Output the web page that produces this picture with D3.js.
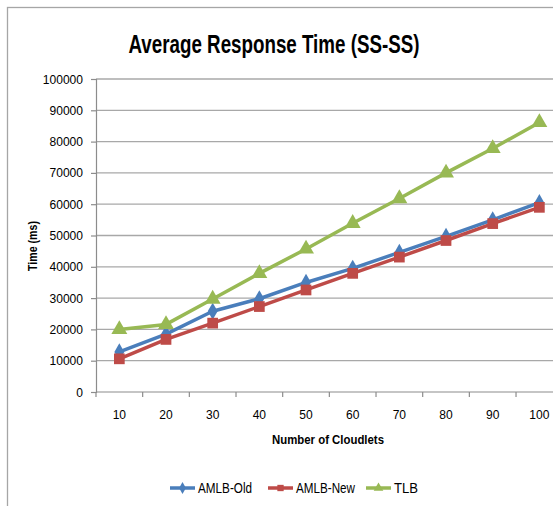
<!DOCTYPE html>
<html>
<head>
<meta charset="utf-8">
<script src="https://cdn.jsdelivr.net/npm/d3@7"></script>
<style>
  html, body { margin: 0; padding: 0; background: #fff; }
  svg { display: block; font-family: "Liberation Sans", Arial, sans-serif; }
</style>
</head>
<body>
<svg id="chart" width="553" height="506"></svg>
<script>
// Number of cloudlets on the x axis
const cloudlets = ["10", "20", "30", "40", "50", "60", "70", "80", "90", "100"];
// Average response time (ms) per algorithm
const amlbOld = [12800, 18500, 25800, 29800, 35000, 39500, 44600, 49700, 55000, 60500];
const amlbNew = [10600, 16800, 22000, 27300, 32600, 37900, 43100, 48400, 53800, 59000];
const tlb     = [20000, 21600, 29700, 37900, 45700, 53900, 61800, 70000, 77800, 86100];
const yTicks  = [0, 10000, 20000, 30000, 40000, 50000, 60000, 70000, 80000, 90000, 100000];
const seriesNames = ["AMLB-Old", "AMLB-New", "TLB"];

const series = [
  { name: seriesNames[0], values: amlbOld, color: "#4a7ebb", shape: "diamond", labelWidth: 54 },
  { name: seriesNames[1], values: amlbNew, color: "#be4b48", shape: "square", labelWidth: 59 },
  { name: seriesNames[2], values: tlb,     color: "#98b954", shape: "triangle", labelWidth: 24 }
];

const svg = d3.select("#chart");
const plot = { left: 96, right: 562.7, top: 79, bottom: 392 };

// outer chart frame
svg.append("rect")
  .attr("x", 7.5).attr("y", 7.5)
  .attr("width", 600).attr("height", 600)
  .attr("fill", "none").attr("stroke", "#a6a6a6").attr("stroke-width", 1.3);

const x = d3.scaleBand().domain(cloudlets).range([plot.left, plot.right]);
const y = d3.scaleLinear().domain([0, 100000]).range([plot.bottom, plot.top]);

// horizontal gridlines
svg.append("g").selectAll("line").data(yTicks.filter(d => d > 0)).join("line")
  .attr("x1", plot.left).attr("x2", plot.right)
  .attr("y1", d => y(d)).attr("y2", d => y(d))
  .attr("stroke", "#a8a8a8").attr("stroke-width", 1.3);

// y axis
const yAxis = svg.append("g")
  .attr("transform", `translate(${plot.left},0)`)
  .call(d3.axisLeft(y).tickValues(yTicks).tickSize(5).tickPadding(8).tickFormat(d3.format("d")));
yAxis.select(".domain").attr("stroke", "#8c8c8c").attr("stroke-width", 1.2);
yAxis.selectAll(".tick line").attr("stroke", "#8c8c8c").attr("stroke-width", 1.2);
yAxis.selectAll(".tick text")
  .attr("font-family", "Liberation Sans, Arial, sans-serif")
  .attr("font-size", 12.5).attr("fill", "#000")
  .attr("textLength", d => String(d).length * 6.7)
  .attr("lengthAdjust", "spacingAndGlyphs");

// x axis with ticks on category boundaries
const xAxisG = svg.append("g");
xAxisG.append("line")
  .attr("x1", plot.left).attr("x2", plot.right)
  .attr("y1", plot.bottom).attr("y2", plot.bottom)
  .attr("stroke", "#8c8c8c").attr("stroke-width", 1.2);
const bounds = cloudlets.map(c => x(c)).concat([plot.right]);
xAxisG.selectAll("line.tk").data(bounds).join("line").attr("class", "tk")
  .attr("x1", d => d).attr("x2", d => d)
  .attr("y1", plot.bottom).attr("y2", plot.bottom + 5)
  .attr("stroke", "#8c8c8c").attr("stroke-width", 1.2);
xAxisG.selectAll("text").data(cloudlets).join("text")
  .attr("x", d => x(d) + x.bandwidth() / 2)
  .attr("y", 419)
  .attr("text-anchor", "middle")
  .attr("font-size", 12.5)
  .attr("textLength", d => d.length * 6.7)
  .attr("lengthAdjust", "spacingAndGlyphs")
  .text(d => d);

// title and axis titles
svg.append("text")
  .attr("x", 274).attr("y", 53)
  .attr("text-anchor", "middle")
  .attr("font-size", 26).attr("font-weight", "bold")
  .attr("textLength", 291).attr("lengthAdjust", "spacingAndGlyphs")
  .text("Average Response Time (SS-SS)");

svg.append("text")
  .attr("x", 328).attr("y", 444)
  .attr("text-anchor", "middle")
  .attr("font-size", 13).attr("font-weight", "bold")
  .attr("textLength", 112).attr("lengthAdjust", "spacingAndGlyphs")
  .text("Number of Cloudlets");

svg.append("text")
  .attr("transform", "translate(37,246) rotate(-90)")
  .attr("text-anchor", "middle")
  .attr("font-size", 13).attr("font-weight", "bold")
  .attr("textLength", 50).attr("lengthAdjust", "spacingAndGlyphs")
  .text("Time (ms)");

const symbolType = { diamond: d3.symbolDiamond, square: d3.symbolSquare, triangle: d3.symbolTriangle };
const symbolSize = { diamond: 85, square: 115, triangle: 110 };

const line = d3.line()
  .x((d, i) => x(cloudlets[i]) + x.bandwidth() / 2)
  .y(d => y(d));

series.forEach(s => {
  const g = svg.append("g");
  g.append("path")
    .attr("d", line(s.values))
    .attr("fill", "none")
    .attr("stroke", s.color)
    .attr("stroke-width", 3.5)
    .attr("stroke-linejoin", "round");
  g.selectAll("path.mk").data(s.values).join("path").attr("class", "mk")
    .attr("transform", (d, i) => `translate(${x(cloudlets[i]) + x.bandwidth() / 2},${y(d)})`)
    .attr("d", d3.symbol().type(symbolType[s.shape]).size(symbolSize[s.shape]))
    .attr("fill", s.color);
});

// legend
const legendX = [170, 268, 366];
const legendY = 488;
series.forEach((s, i) => {
  const g = svg.append("g").attr("transform", `translate(${legendX[i]},${legendY})`);
  g.append("line").attr("x1", 0).attr("x2", 25).attr("y1", 0).attr("y2", 0)
    .attr("stroke", s.color).attr("stroke-width", 3.5);
  g.append("path").attr("transform", "translate(12.5,0)")
    .attr("d", d3.symbol().type(symbolType[s.shape]).size(40))
    .attr("fill", s.color);
  g.append("text").attr("x", 28).attr("y", 5)
    .attr("font-size", 14)
    .attr("textLength", s.labelWidth)
    .attr("lengthAdjust", "spacingAndGlyphs")
    .text(s.name);
});
</script>
</body>
</html>
